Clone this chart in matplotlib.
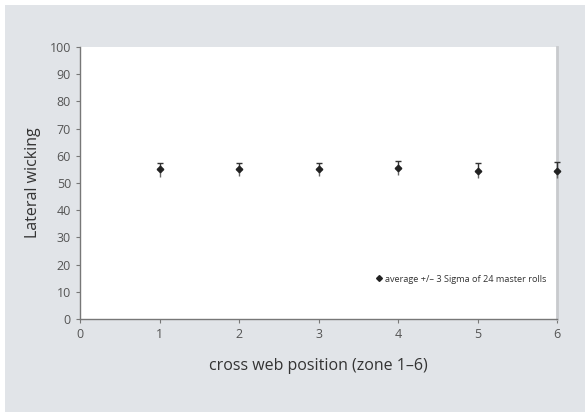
import matplotlib
matplotlib.use("Agg")
import matplotlib.pyplot as plt
from matplotlib.patches import Rectangle

zones = [1, 2, 3, 4, 5, 6]
means = [55.0, 55.0, 55.0, 55.5, 54.5, 54.5]
err_up = [2.5, 2.3, 2.2, 2.5, 3.0, 3.2]
err_down = [2.7, 2.5, 2.5, 2.5, 2.7, 2.8]
xticks = [0, 1, 2, 3, 4, 5, 6]
yticks = [0, 10, 20, 30, 40, 50, 60, 70, 80, 90, 100]

plt.rcParams['font.family'] = ['Open Sans', 'DejaVu Sans']

fig = plt.figure(figsize=(5.85, 4.12), dpi=100, facecolor='white')
bg = Rectangle((5/585, 0), 1, 1 - 5/412, transform=fig.transFigure,
               facecolor='#e1e4e8', edgecolor='none', zorder=-10)
fig.patches.append(bg)

ax = fig.add_axes([80/585, (412-319)/412, (557-80)/585, (319-47)/412])
ax.set_facecolor('white')

ax.errorbar(zones, means, yerr=[[0]*6, err_up], fmt='none', ecolor='#333333',
            elinewidth=1.0, capsize=2.5, capthick=1.0, clip_on=False, zorder=3)
ax.errorbar(zones, means, yerr=[err_down, [0]*6], fmt='none', ecolor='#666666',
            elinewidth=1.0, capsize=0, clip_on=False, zorder=3)
ax.plot(zones, means, linestyle='none', marker='D', markersize=3.3,
        color='#222222', clip_on=False, zorder=4,
        label='average +/– 3 Sigma of 24 master rolls')

ax.set_xlim(0, 6)
ax.set_ylim(0, 100)
ax.set_xticks(xticks)
ax.set_yticks(yticks)
ax.tick_params(axis='both', colors='#777777', labelcolor='#555555', labelsize=9,
               length=3, direction='out', width=0.8)

for s in ['left', 'bottom']:
    ax.spines[s].set_color('#777777')
    ax.spines[s].set_linewidth(1.0)
ax.spines['right'].set_color('#c8cacd')
ax.spines['right'].set_linewidth(2.0)
ax.spines['top'].set_visible(False)

ax.set_ylabel('Lateral wicking', fontsize=11.5, color='#333333', labelpad=6)
ax.set_xlabel('cross web position (zone 1–6)', fontsize=11.5, color='#333333', labelpad=12)

leg = ax.legend(loc='lower right', bbox_to_anchor=(0.995, 0.1), fontsize=6.6,
                frameon=False, handlelength=0.6, handletextpad=0.4,
                markerscale=0.9, labelcolor='#333333')

fig.savefig('out.png', dpi=100, facecolor=fig.get_facecolor())
